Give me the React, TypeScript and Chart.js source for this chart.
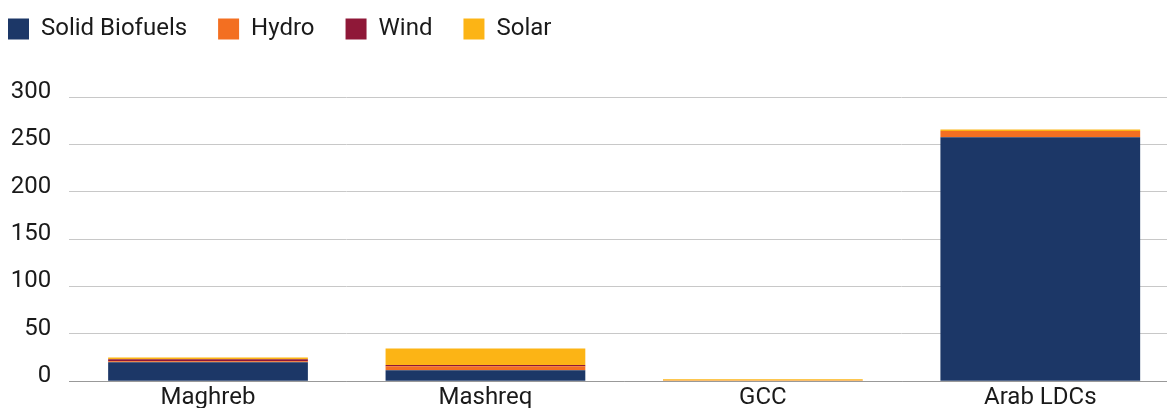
import React, { useEffect, useRef } from "react";
import { Chart, registerables } from "chart.js";

Chart.register(...registerables);

const categories = ["Maghreb", "Mashreq", "GCC", "Arab LDCs"];
const solidBiofuels = [20, 11.6, 0.6, 257.6];
const hydro = [1.1, 4.2, 0.2, 6.6];
const wind = [2.1, 1.4, 0, 0];
const solar = [1.8, 17.3, 1.2, 1.4];

const seriesNames = ["Solid Biofuels", "Hydro", "Wind", "Solar"];
const seriesColors = ["#1c3767", "#f36f21", "#8f1838", "#fcb415"];

const legendSpacer = {
  id: "legendSpacer",
  beforeInit(chart: any) {
    const legend = chart.legend;
    if (!legend) return;
    const origFit = legend.fit;
    legend.fit = function () {
      origFit.call(legend);
      legend.height += 46;
    };
  },
};

export default function App() {
  const ref = useRef<HTMLCanvasElement | null>(null);

  useEffect(() => {
    if (!ref.current) return;
    const values = [solidBiofuels, hydro, wind, solar];
    const chart = new Chart(ref.current, {
      type: "bar",
      data: {
        labels: categories,
        datasets: seriesNames.map((name, i) => ({
          label: name,
          data: values[i],
          backgroundColor: seriesColors[i],
          borderWidth: 0,
        })),
      },
      options: {
        animation: false,
        responsive: false,
        maintainAspectRatio: false,
        layout: { padding: { top: 0, left: 0, right: 0, bottom: 0 } },
        font: { family: "Roboto", size: 24 },
        plugins: {
          legend: {
            align: "start",
            labels: {
              boxWidth: 21,
              boxHeight: 21,
              padding: 31,
              color: "#1a1a1a",
              font: { family: "Roboto", size: 24 },
            },
          },
          tooltip: { enabled: false },
        },
        scales: {
          x: {
            stacked: true,
            grid: { display: false, drawTicks: false },
            border: { display: true, color: "#999", width: 1 },
            ticks: {
              color: "#1a1a1a",
              padding: 2,
              font: { family: "Roboto", size: 24 },
            },
          },
          y: {
            stacked: true,
            min: 0,
            max: 300,
            afterFit: (scale: any) => {
              scale.width = 92.3;
            },
            grid: { color: "#c8c8c8", drawTicks: false },
            border: { display: false },
            ticks: {
              stepSize: 50,
              color: "#1a1a1a",
              padding: 18,
              labelOffset: -5,
              font: { family: "Roboto", size: 24 },
            },
          },
        },
      },
      plugins: [legendSpacer],
    });
    return () => chart.destroy();
  }, []);

  return (
    <div
      style={{
        position: "fixed",
        left: 0,
        top: 0,
        width: 1167,
        height: 408,
        overflow: "hidden",
        background: "#fff",
      }}
    >
      <div style={{ position: "absolute", left: -23, top: -14 }}>
        <canvas ref={ref} width={1202} height={428} style={{ display: "block" }} />
      </div>
    </div>
  );
}
